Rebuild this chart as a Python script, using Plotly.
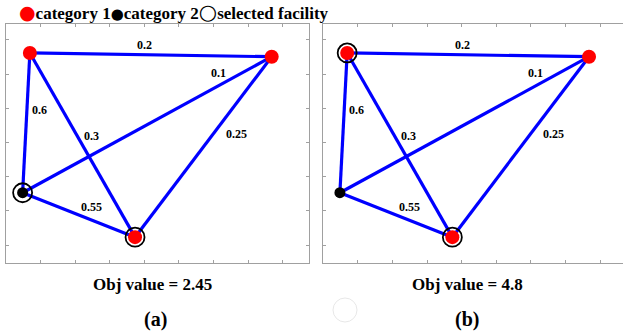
import plotly.graph_objects as go

# Facility locations (data units) and their category
node_names = ["A", "B", "C", "D"]
node_x = [0.69, 7.68, 0.48, 3.73]
node_y = [6.62, 6.51, 2.53, 1.23]
node_category = [1, 1, 2, 1]

# Links of the complete network and their weights
edge_from = ["A", "C", "A", "A", "B", "C"]
edge_to = ["B", "B", "C", "D", "D", "D"]
edge_weight = [0.2, 0.1, 0.6, 0.3, 0.25, 0.55]

# Selected facilities and objective value per solution
selected = [["C", "D"], ["A", "D"]]
obj_values = [2.45, 4.8]
panel_tags = ["(a)", "(b)"]

x_ticks = [1, 2, 3, 4, 5, 6, 7, 8]
y_ticks = [1, 2, 3, 4, 5, 6, 7]

# Label placement along each link: fraction of the way, pixel shifts
label_place = {
    ("A", "B"): (0.5, -6, 10),
    ("C", "B"): (0.786, 0, 13),
    ("A", "C"): (0.5, 13, 13),
    ("A", "D"): (0.5, 9, 9),
    ("B", "D"): (0.5, 33, 13),
    ("C", "D"): (0.5, 13, 8),
}

W, H = 623, 331
FONT = "Liberation Serif, Times New Roman, serif"
EDGE = "rgb(0,0,255)"
FRAME = "rgb(160,160,160)"

pos = {n: (x, y) for n, x, y in zip(node_names, node_x, node_y)}

# Axis placement (pixels) for the two panels
x_domains = [[6 / W, 308.7 / W], [323.3 / W, 1.0]]
x_ranges = [[0, 8.75], [0, 299.7 / 34.6]]
y_domain = [1 - 262.7 / H, 1 - 24 / H]
y_range = [0.4825, 7.4675]

fig = go.Figure()
annotations = []

for p in range(2):
    xa = "x" if p == 0 else "x2"
    ya = "y" if p == 0 else "y2"

    # links
    lx, ly = [], []
    for a, b in zip(edge_from, edge_to):
        lx += [pos[a][0], pos[b][0], None]
        ly += [pos[a][1], pos[b][1], None]
    fig.add_trace(go.Scatter(x=lx, y=ly, mode="lines", xaxis=xa, yaxis=ya,
                             line=dict(color=EDGE, width=3.2),
                             hoverinfo="skip", showlegend=False))

    # link weight labels
    for a, b, w in zip(edge_from, edge_to, edge_weight):
        t, dx, dy = label_place[(a, b)]
        px = pos[a][0] + t * (pos[b][0] - pos[a][0])
        py = pos[a][1] + t * (pos[b][1] - pos[a][1])
        annotations.append(dict(x=px, y=py, xref=xa, yref=ya, text=f"<b>{w:g}</b>",
                                xanchor="center", yanchor="middle",
                                showarrow=False, xshift=dx, yshift=dy,
                                font=dict(family=FONT, size=12, color="black")))

    # facilities
    for cat, color, size in [(1, "red", 14), (2, "black", 11)]:
        xs = [x for x, c in zip(node_x, node_category) if c == cat]
        ys = [y for y, c in zip(node_y, node_category) if c == cat]
        fig.add_trace(go.Scatter(x=xs, y=ys, mode="markers", xaxis=xa, yaxis=ya,
                                 marker=dict(color=color, size=size, line=dict(width=0)),
                                 showlegend=False))

    # selected facilities
    sx = [pos[n][0] for n in selected[p]]
    sy = [pos[n][1] for n in selected[p]]
    fig.add_trace(go.Scatter(x=sx, y=sy, mode="markers", xaxis=xa, yaxis=ya,
                             marker=dict(symbol="circle-open", size=19, color="black",
                                         line=dict(width=1.8, color="black")),
                             showlegend=False))

    cx = [152 / W, 467 / W][p]
    annotations.append(dict(x=cx, y=1 - 284 / H, xref="paper", yref="paper",
                            xanchor="center", yanchor="middle",
                            text=f"<b>Obj value = {obj_values[p]:g}</b>", showarrow=False,
                            font=dict(family=FONT, size=17, color="black")))
    annotations.append(dict(x=[155 / W, 467 / W][p], y=1 - 319 / H, xref="paper", yref="paper",
                            xanchor="center", yanchor="middle",
                            text=f"<b>{panel_tags[p]}</b>", showarrow=False,
                            font=dict(family=FONT, size=20, color="black")))

# legend line across the top (symbols drawn as glyphs)
SYM = "font-family:DejaVu Sans;"
annotations.append(dict(
    x=17 / W, y=1 - 12 / H, xref="paper", yref="paper", xanchor="left", yanchor="middle",
    showarrow=False, font=dict(family=FONT, size=17, color="black"),
    text=(f'<span style="{SYM}color:red;font-size:19px">●</span><b>category 1</b>'
          f'<span style="{SYM}font-size:15px">●</span><b>category 2</b>'
          f'<span style="{SYM}font-size:21px">○</span><b>selected facility</b>')))

axis_common = dict(showgrid=False, zeroline=False, showticklabels=False,
                   ticks="inside", ticklen=3, tickcolor=FRAME, tickwidth=1,
                   showline=True, linecolor=FRAME, linewidth=1)

layout = dict(
    width=W, height=H, margin=dict(l=0, r=0, t=0, b=0),
    paper_bgcolor="white", plot_bgcolor="white",
    annotations=annotations,
    shapes=[dict(type="circle", xref="paper", yref="paper",
                 x0=333 / W, x1=357 / W, y0=1 - 322 / H, y1=1 - 298 / H,
                 line=dict(color="rgb(232,232,232)", width=1))],
)
layout["xaxis"] = dict(axis_common, domain=x_domains[0], range=x_ranges[0],
                       tickvals=x_ticks, mirror="ticks", anchor="y")
layout["yaxis"] = dict(axis_common, domain=y_domain, range=y_range,
                       tickvals=y_ticks, mirror="ticks", anchor="x")
layout["xaxis2"] = dict(axis_common, domain=x_domains[1], range=x_ranges[1],
                        tickvals=x_ticks, mirror="ticks", anchor="y2")
layout["yaxis2"] = dict(axis_common, domain=y_domain, range=y_range,
                        tickvals=y_ticks, mirror=False, anchor="x2")
fig.update_layout(**layout)

fig.write_html("out.html")
